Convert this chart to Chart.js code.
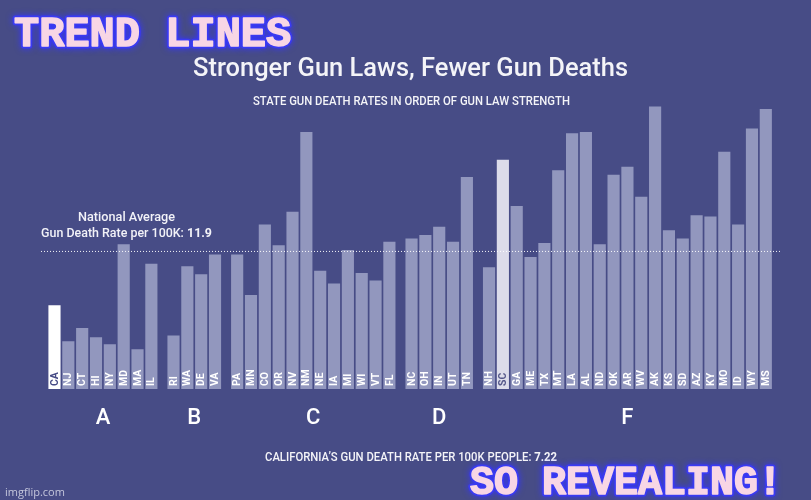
<!DOCTYPE html>
<html>
<head>
<meta charset="utf-8">
<script src="https://cdn.jsdelivr.net/npm/chart.js@4.4.1/dist/chart.umd.min.js"></script>
<style>
    html, body { margin: 0; padding: 0; background: #474c86; }
    canvas { display: block; }
</style>
</head>
<body>
<canvas id="graficoArmas" width="811" height="500"></canvas>
<script>
// States in order of gun law strength, with gun deaths per 100K
const states = ['CA','NJ','CT','HI','NY','MD','MA','IL',
    'RI','WA','DE','VA',
    'PA','MN','CO','OR','NV','NM','NE','IA','MI','WI','VT','FL',
    'NC','OH','IN','UT','TN',
    'NH','SC','GA','ME','TX','MT','LA','AL','ND','OK','AR','WV','AK','KS','SD','AZ','KY','MO','ID','WY','MS'];
const rates = [7.22, 4.1, 5.25, 4.45, 3.85, 12.5, 3.4, 10.8,
    4.6, 10.6, 9.9, 11.6,
    11.6, 8.1, 14.2, 12.4, 15.3, 22.2, 10.2, 9.1, 12.0, 10.0, 9.35, 12.7,
    13.0, 13.3, 14.0, 12.7, 18.3,
    10.5, 19.8, 15.8, 11.4, 12.6, 18.9, 22.1, 22.2, 12.5, 18.5, 19.2, 16.6, 24.4, 13.7, 13.0, 15.0, 14.9, 20.5, 14.2, 22.5, 24.2];
const grades = ['A', 'B', 'C', 'D', 'F'];
const gradeSizes = [8, 4, 12, 5, 21];
const nationalAverage = 11.9;
const californiaRate = 7.22;

const BG = '#474c86';
const BAR = '#9297be';

// ==========================================
// positions: one unit per state, extra gap between grade groups
// ==========================================
const groupOf = [];
gradeSizes.forEach((n, g) => { for (let k = 0; k < n; k++) groupOf.push(g); });
const points = states.map((s, i) => ({ x: i + 0.6 * groupOf[i], y: rates[i] }));
const barColors = states.map(s => s === 'CA' ? '#ffffff' : (s === 'SC' ? '#dcdcea' : BAR));

const X_MIN = -0.975, X_MAX = 52.57;

// horizontally squeezed text, to mimic the condensed font of the original
function drawFitted(ctx, parts, cx, baseline, width, size, color) {
    ctx.save();
    ctx.fillStyle = color;
    ctx.textBaseline = 'alphabetic';
    ctx.textAlign = 'left';
    let natural = 0;
    parts.forEach(p => {
        ctx.font = `${p.bold ? 'bold' : '500'} ${size}px Roboto`;
        p.w = ctx.measureText(p.text).width;
        natural += p.w;
    });
    ctx.translate(cx, baseline);
    ctx.scale(width / natural, 1);
    let x = -natural / 2;
    parts.forEach(p => {
        ctx.font = `${p.bold ? 'bold' : '500'} ${size}px Roboto`;
        ctx.fillText(p.text, x, 0);
        x += p.w;
    });
    ctx.restore();
}

function drawMeme(ctx, text, x, baseline, size) {
    ctx.save();
    ctx.font = `bold ${size}px "Liberation Mono"`;
    ctx.textAlign = 'left';
    ctx.lineJoin = 'round';
    ctx.shadowColor = '#3535ff';
    ctx.shadowBlur = 6;
    ctx.strokeStyle = '#3a3af2';
    ctx.lineWidth = 5;
    ctx.strokeText(text, x, baseline);
    ctx.shadowBlur = 0;
    ctx.fillStyle = '#f8d6e5';
    ctx.strokeStyle = '#f8d6e5';
    ctx.lineWidth = 1.5;
    ctx.strokeText(text, x, baseline);
    ctx.fillText(text, x, baseline);
    ctx.restore();
}

const fundo = {
    id: 'fundo',
    beforeDraw(chart) {
        const ctx = chart.ctx;
        ctx.save();
        ctx.fillStyle = BG;
        ctx.fillRect(0, 0, chart.width, chart.height);
        ctx.restore();
    }
};

const textos = {
    id: 'textos',
    afterDatasetsDraw(chart) {
        const ctx = chart.ctx;
        const meta = chart.getDatasetMeta(0);

        // state labels inside the bars
        meta.data.forEach((bar, i) => {
            ctx.save();
            ctx.translate(bar.x, bar.base - 3);
            ctx.rotate(-Math.PI / 2);
            ctx.font = 'bold 10.5px Roboto';
            ctx.textAlign = 'left';
            ctx.textBaseline = 'middle';
            ctx.fillStyle = states[i] === 'CA' ? BG : (states[i] === 'SC' ? '#55588a' : '#ffffff');
            ctx.fillText(states[i], 0, 0.5);
            ctx.restore();
        });

        // grade letters under each group
        let start = 0;
        ctx.save();
        ctx.font = '500 22px Roboto';
        ctx.fillStyle = '#ffffff';
        ctx.textAlign = 'center';
        grades.forEach((g, k) => {
            const first = meta.data[start].x;
            const last = meta.data[start + gradeSizes[k] - 1].x;
            ctx.fillText(g, (first + last) / 2, 424);
            start += gradeSizes[k];
        });
        ctx.restore();

        // national average note
        const yAvg = chart.scales.y.getPixelForValue(nationalAverage);
        drawFitted(ctx, [{ text: 'National Average' }], 126.5, yAvg - 30, 97, 13.5, '#f2f2f8');
        drawFitted(ctx, [{ text: 'Gun Death Rate per 100K: ' }, { text: String(nationalAverage), bold: true }],
            126.5, yAvg - 14, 171, 13.5, '#f2f2f8');

        // titles
        drawFitted(ctx, [{ text: 'Stronger Gun Laws, Fewer Gun Deaths' }], 410.5, 76, 435, 25, '#f4f4f8');
        drawFitted(ctx, [{ text: 'STATE GUN DEATH RATES IN ORDER OF GUN LAW STRENGTH' }], 411.5, 105, 317, 12.5, '#f4f4f8');
        drawFitted(ctx, [{ text: 'CALIFORNIA\u2019S GUN DEATH RATE PER 100K PEOPLE: ' }, { text: String(californiaRate), bold: true }],
            411, 461, 292, 12.5, '#f4f4f8');

        // meme captions
        drawMeme(ctx, 'TREND LINES', 14, 46, 42);
        drawMeme(ctx, 'SO REVEALING!', 470, 494, 40);

        ctx.save();
        ctx.font = '11px "Open Sans"';
        ctx.fillStyle = '#c4c6dc';
        ctx.textAlign = 'left';
        ctx.fillText('imgflip.com', 5, 496);
        ctx.restore();
    }
};

new Chart(document.getElementById('graficoArmas').getContext('2d'), {
    type: 'bar',
    data: {
        datasets: [{
            type: 'bar',
            data: points,
            backgroundColor: barColors,
            borderWidth: 0,
            barThickness: 11.5,
            order: 1
        }, {
            type: 'line',
            data: [{ x: X_MIN, y: nationalAverage }, { x: X_MAX, y: nationalAverage }],
            borderColor: 'rgba(255,255,255,0.95)',
            borderWidth: 1,
            borderDash: [1, 2],
            pointRadius: 0,
            fill: false,
            order: 0
        }]
    },
    options: {
        responsive: false,
        animation: false,
        devicePixelRatio: 1,
        layout: { padding: { left: 41, right: 29, top: 88.44, bottom: 111 } },
        scales: {
            x: { type: 'linear', min: X_MIN, max: X_MAX, offset: false, display: false },
            y: { min: 0, max: 26, display: false }
        },
        plugins: {
            legend: { display: false },
            tooltip: { enabled: false }
        }
    },
    plugins: [fundo, textos]
});
</script>
</body>
</html>
